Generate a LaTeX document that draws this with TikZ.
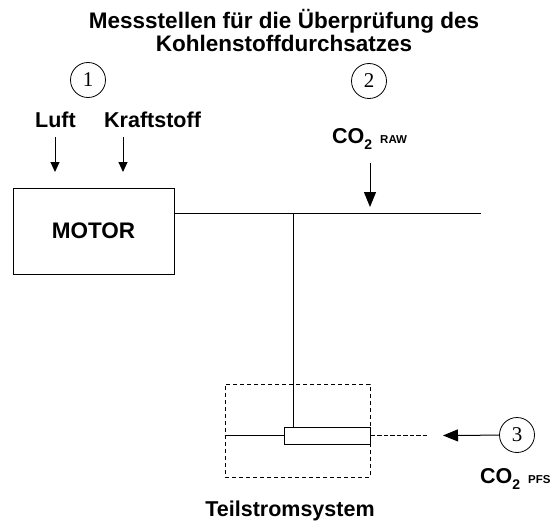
\documentclass[tikz,border=0pt]{standalone}
\usepackage{fontspec}
\setmainfont{Liberation Sans}
\newfontfamily\numfont{Liberation Serif}
\usetikzlibrary{positioning,arrows.meta}
\begin{document}
\begin{tikzpicture}[
  x=1pt,y=-1pt,
  lbl/.style={inner sep=0pt,font=\fontsize{21.5}{24}\selectfont\bfseries},
  point/.style={draw,circle,minimum size=35pt,inner sep=0pt,line width=0.8pt,
    font=\fontsize{21}{21}\numfont},
  pipe/.style={line width=1pt},
  arr/.style={-{Triangle[length=10pt,width=9pt]},line width=1pt},
  bigarr/.style={-{Triangle[length=15pt,width=12pt]},line width=1pt}
]
\useasboundingbox (0,0) rectangle (555,530);
% title
\node[lbl,font=\fontsize{22.5}{24}\selectfont\bfseries,anchor=base] (t1) at (284,28) {Messstellen für die Überprüfung des};
\node[lbl,font=\fontsize{22.5}{24}\selectfont\bfseries,anchor=base] (t2) at (284,52) {Kohlenstoffdurchsatzes};
% measuring points
\node[point] (m1) at (88,80) {1};
\node[point] (m2) at (369,81) {2};
\node[point] (m3) at (517,435) {3};
% inputs
\node[lbl,anchor=base west] (luft) at (35,127) {Luft};
\node[lbl,anchor=base west] (kraft) at (104,127) {Kraftstoff};
\node[lbl,anchor=base west] (raw) at (332,143)
  {CO\raisebox{-6pt}{\fontsize{14}{14}\selectfont 2}\hspace{8pt}{\fontsize{11.5}{11.5}\selectfont RAW}};
\node[lbl,anchor=base west] (pfs) at (480,483)
  {CO\raisebox{-6pt}{\fontsize{14}{14}\selectfont 2}\hspace{8pt}{\fontsize{11.5}{11.5}\selectfont PFS}};
% engine and partial flow system
\node[draw,line width=1pt,minimum width=161pt,minimum height=86pt,
  font=\fontsize{22.5}{22.5}\selectfont\bfseries] (motor) at (93.5,231) {MOTOR};
\node[draw,dash pattern=on 4pt off 3pt,line width=0.9pt,minimum width=145pt,minimum height=93pt] (tss) at (297.5,430.5) {};
\node[draw,line width=1pt,minimum width=86pt,minimum height=17pt] (probe) at (327,435.5) {};
\node[lbl,anchor=base] (tsslbl) at (290,516) {Teilstromsystem};
% coordinates
\coordinate (luft0) at (55,137);
\coordinate (luft1) at (55,172);
\coordinate (kraft0) at (123,137);
\coordinate (kraft1) at (123,172);
\coordinate (raw0) at (370,163);
\coordinate (raw1) at (370,207);
\coordinate (p0) at (174,213);
\coordinate (pend) at (481,213);
\coordinate (j) at (293,213);
\coordinate (dend) at (427,435.5);
\coordinate (m3tip) at (443,435.5);
% connectors
\draw[arr] (luft0) -- (luft1);
\draw[arr] (kraft0) -- (kraft1);
\draw[bigarr] (raw0) -- (raw1);
\draw[pipe] (p0) -- (pend);
\draw[pipe] (j) -- (j |- probe.north);
\draw[pipe] (tss.west |- probe.west) -- (probe.west);
\draw[line width=1.8pt,dash pattern=on 4.5pt off 2pt] (probe.east) -- (dend);
\draw[bigarr] (m3) -- (m3tip);
\end{tikzpicture}
\end{document}
